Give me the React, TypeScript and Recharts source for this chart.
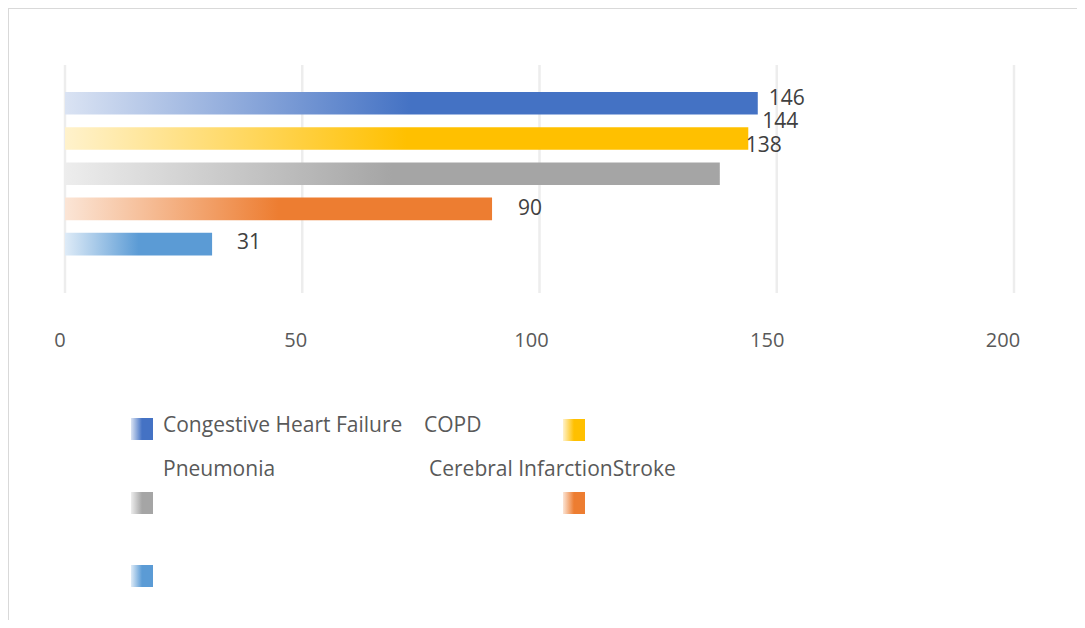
import React from 'react';
import { BarChart, Bar, XAxis, YAxis, CartesianGrid, LabelList } from 'recharts';

const categories = ['Readmissions'];
const seriesNames = ['Congestive Heart Failure', 'COPD', 'Pneumonia', 'Cerebral InfarctionStroke', ''];
const seriesValues = [146, 144, 138, 90, 31];
const xTicks = [0, 50, 100, 150, 200];

const seriesColors = ['#4472c4', '#ffc000', '#a5a5a5', '#ed7d31', '#5b9bd5'];
const seriesTints = ['#dae3f3', '#fff2cc', '#ededed', '#fbe5d6', '#deebf7'];

// Excel pushed the top labels around so they don't collide
const labelShiftX = [-15, -12, 0, 0, -1];
const labelShiftY = [-6, -19, -30, -2, -3];

// legend is laid out oddly in the original: swatches and texts are not aligned
const legendSwatches = [[122, 409], [554, 410], [122, 483], [554, 483], [122, 556]];
const legendTexts = [[154, 423], [415, 423], [154, 467], [420, 467], [154, 540]];

const data = categories.map((name) => {
  const row: any = { name };
  seriesValues.forEach((v, i) => { row[`s${i}`] = v; });
  return row;
});

const FONT = '"Open Sans", sans-serif';

const Gradients = ({ prefix }: { prefix: string }) => (
  <defs>
    {seriesColors.map((c, i) => (
      <linearGradient key={i} id={`${prefix}${i}`} x1="0" y1="0" x2="1" y2="0">
        <stop offset="0" stopColor={seriesTints[i]} />
        <stop offset="0.5" stopColor={c} />
        <stop offset="1" stopColor={c} />
      </linearGradient>
    ))}
  </defs>
);

const renderLabel = (i: number) => (props: any) => {
  const x = Number(props.x), y = Number(props.y), w = Number(props.width), h = Number(props.height);
  return (
    <text
      x={x + w + 26 + labelShiftX[i]}
      y={y + h / 2 + labelShiftY[i]}
      dominantBaseline="central"
      fill="#404040"
      fontSize={21}
      fontFamily={FONT}
    >
      {props.value}
    </text>
  );
};

// tick labels sit a little left of their gridlines, more so further right
const renderTick = (props: any) => {
  const v = Number(props.payload.value);
  return (
    <text
      x={Number(props.x) - 5 - 0.03 * v}
      y={Number(props.y)}
      dy="0.71em"
      textAnchor="middle"
      fill="#595959"
      fontSize={20}
      fontFamily={FONT}
    >
      {v}
    </text>
  );
};

const ChartLegend = () => (
  <svg width={1076} height={604} style={{ position: 'absolute', left: 0, top: 0, pointerEvents: 'none' }}>
    <Gradients prefix="lg" />
    {seriesNames.map((name, i) => (
      <g key={i}>
        <rect x={legendSwatches[i][0]} y={legendSwatches[i][1]} width={22} height={22} fill={`url(#lg${i})`} />
        <text x={legendTexts[i][0]} y={legendTexts[i][1]} fill="#595959" fontSize={21} fontFamily={FONT}>{name}</text>
      </g>
    ))}
  </svg>
);

export default function App() {
  return (
    <div
      style={{
        marginLeft: -1,
        marginTop: -1,
        width: 1078,
        height: 613,
        boxSizing: 'border-box',
        borderLeft: '2px solid #d9d9d9',
        borderTop: '2px solid #d9d9d9',
        position: 'relative',
        background: '#fff',
      }}
    >
      <BarChart
        width={1076}
        height={380}
        data={data}
        layout="vertical"
        barGap={12.6}
        margin={{ top: 56, right: 71, left: 56, bottom: 36 }}
      >
        <Gradients prefix="bar" />
        <CartesianGrid horizontal={false} stroke="#ededed" strokeWidth={2.5} />
        <XAxis
          type="number"
          domain={[0, 200]}
          ticks={xTicks}
          axisLine={false}
          tickLine={false}
          tickSize={0}
          tickMargin={40}
          height={60}
          tick={renderTick}
        />
        <YAxis type="category" dataKey="name" hide padding={{ top: 3, bottom: 14 }} />
        {seriesNames.map((name, i) => (
          <Bar
            key={i}
            dataKey={`s${i}`}
            name={name}
            fill={`url(#bar${i})`}
            barSize={22.6}
            isAnimationActive={false}
          >
            <LabelList dataKey={`s${i}`} content={renderLabel(i)} />
          </Bar>
        ))}
      </BarChart>
      <ChartLegend />
    </div>
  );
}
